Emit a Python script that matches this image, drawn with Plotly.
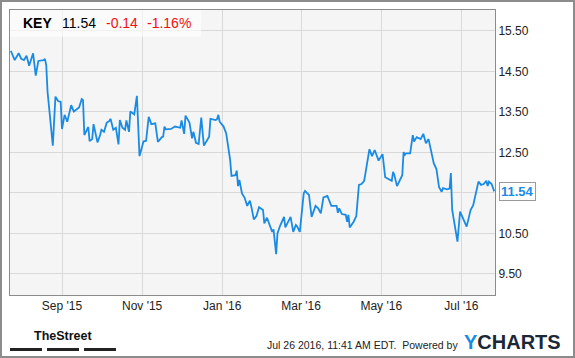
import plotly.graph_objects as go

# ---------------- data ----------------
dates = [
    "2015-07-24", "2015-07-27", "2015-07-30", "2015-08-01", "2015-08-03", "2015-08-05",
    "2015-08-07", "2015-08-10", "2015-08-12", "2015-08-14", "2015-08-18", "2015-08-19",
    "2015-08-20", "2015-08-21", "2015-08-25", "2015-08-27", "2015-08-29", "2015-08-31",
    "2015-09-01", "2015-09-03", "2015-09-05", "2015-09-08", "2015-09-10", "2015-09-12",
    "2015-09-14", "2015-09-16", "2015-09-17", "2015-09-18", "2015-09-21", "2015-09-22",
    "2015-09-24", "2015-09-25", "2015-09-27", "2015-09-28", "2015-09-30", "2015-10-01",
    "2015-10-03", "2015-10-05", "2015-10-07", "2015-10-08", "2015-10-10", "2015-10-12",
    "2015-10-14", "2015-10-15", "2015-10-17", "2015-10-19", "2015-10-20", "2015-10-22",
    "2015-10-23", "2015-10-26", "2015-10-28", "2015-10-30", "2015-11-02", "2015-11-04",
    "2015-11-06", "2015-11-08", "2015-11-11", "2015-11-13", "2015-11-16", "2015-11-17",
    "2015-11-18", "2015-11-19", "2015-11-23", "2015-11-26", "2015-11-30", "2015-12-01",
    "2015-12-03", "2015-12-04", "2015-12-07", "2015-12-09", "2015-12-10", "2015-12-12",
    "2015-12-14", "2015-12-16", "2015-12-18", "2015-12-20", "2015-12-22", "2015-12-23",
    "2015-12-27", "2015-12-28", "2015-12-29", "2015-12-30", "2016-01-02", "2016-01-04",
    "2016-01-05", "2016-01-07", "2016-01-08", "2016-01-11", "2016-01-12", "2016-01-13",
    "2016-01-14", "2016-01-16", "2016-01-18", "2016-01-20", "2016-01-21", "2016-01-22",
    "2016-01-23", "2016-01-25", "2016-01-27", "2016-01-29", "2016-02-01", "2016-02-02",
    "2016-02-04", "2016-02-06", "2016-02-08", "2016-02-09", "2016-02-11", "2016-02-12",
    "2016-02-14", "2016-02-17", "2016-02-18", "2016-02-22", "2016-02-24", "2016-02-26",
    "2016-02-27", "2016-02-29", "2016-03-03", "2016-03-04", "2016-03-07", "2016-03-09",
    "2016-03-12", "2016-03-14", "2016-03-16", "2016-03-18", "2016-03-21", "2016-03-24",
    "2016-03-28", "2016-03-29", "2016-03-30", "2016-04-01", "2016-04-04", "2016-04-05",
    "2016-04-06", "2016-04-07", "2016-04-10", "2016-04-12", "2016-04-14", "2016-04-16",
    "2016-04-18", "2016-04-20", "2016-04-22", "2016-04-24", "2016-04-26", "2016-04-29",
    "2016-05-02", "2016-05-04", "2016-05-06", "2016-05-09", "2016-05-10", "2016-05-11",
    "2016-05-13", "2016-05-17", "2016-05-18", "2016-05-19", "2016-05-20", "2016-05-23",
    "2016-05-25", "2016-05-26", "2016-05-28", "2016-05-31", "2016-06-02", "2016-06-04",
    "2016-06-06", "2016-06-07", "2016-06-10", "2016-06-12", "2016-06-14", "2016-06-16",
    "2016-06-17", "2016-06-20", "2016-06-22", "2016-06-23", "2016-06-24", "2016-06-28",
    "2016-06-30", "2016-07-05", "2016-07-08", "2016-07-10", "2016-07-12", "2016-07-14",
    "2016-07-16", "2016-07-18", "2016-07-20", "2016-07-21", "2016-07-22", "2016-07-24",
    "2016-07-26",
]
prices = [
    15.01, 14.78, 14.95, 14.81, 14.78, 14.89,
    14.64, 14.95, 14.40, 14.76, 14.78, 14.81,
    14.66, 14.00, 12.67, 13.88, 13.77, 13.75,
    13.08, 13.43, 13.26, 13.67, 13.51, 13.55,
    13.61, 13.82, 13.79, 12.93, 13.13, 12.78,
    12.83, 13.20, 12.93, 12.75, 12.93, 13.06,
    13.01, 13.23, 13.28, 13.33, 13.06, 13.11,
    12.70, 13.30, 13.11, 13.06, 13.29, 13.01,
    13.51, 13.44, 13.90, 12.41, 12.77, 12.79,
    13.38, 13.20, 13.22, 12.76, 12.88, 12.89,
    13.14, 13.07, 13.08, 13.14, 13.11, 13.29,
    12.96, 13.41, 13.24, 12.85, 13.01, 12.74,
    12.71, 13.36, 12.67, 12.77, 12.89, 13.33,
    13.30, 13.32, 13.43, 13.26, 13.14, 12.97,
    12.77, 12.31, 11.92, 11.94, 12.05, 11.67,
    11.82, 11.49, 11.38, 11.18, 11.25, 11.31,
    11.18, 10.85, 10.93, 11.15, 11.08, 10.75,
    10.89, 10.71, 10.54, 10.60, 9.99, 10.50,
    10.69, 10.91, 10.65, 10.91, 10.54, 10.71,
    10.67, 10.54, 11.49, 11.55, 11.45, 10.91,
    11.18, 11.12, 11.00, 11.39, 11.43, 11.18,
    11.18, 11.01, 11.12, 10.98, 10.96, 10.79,
    10.96, 10.65, 10.79, 10.93, 11.70, 11.72,
    11.80, 12.19, 12.58, 12.41, 12.56, 12.30,
    12.46, 11.89, 11.86, 11.80, 12.02, 11.94,
    11.67, 11.94, 12.51, 12.44, 12.48, 12.48,
    12.93, 12.77, 12.88, 12.83, 12.96, 12.73,
    12.83, 12.69, 12.23, 12.09, 11.64, 11.53,
    11.62, 11.59, 11.61, 11.99, 11.08, 10.30,
    11.04, 10.67, 11.08, 11.20, 11.48, 11.78,
    11.70, 11.72, 11.80, 11.67, 11.78, 11.72,
    11.54,
]
ticker = "KEY"
last_price = 11.54
change = -0.14
change_pct = -1.16
y_ticks = [9.5, 10.5, 11.5, 12.5, 13.5, 14.5, 15.5]
# the 11.50 label is hidden behind the last-price box in the reference
y_tick_text = ["9.50", "10.50", "", "12.50", "13.50", "14.50", "15.50"]
timestamp_text = "Jul 26 2016, 11:41 AM EDT.  Powered by"

# ---------------- layout helpers ----------------
W, H = 575, 358
L, R, T, B = 10, 495, 10, 295  # plot area in pixels
PW, PH = R - L, B - T


def px(x):
    return (x - L) / PW


def py(y):
    return 1 - (y - T) / PH


FONT = "Arial, Liberation Sans, sans-serif"
BLUE = "#1a8be5"
RED = "#f01010"

fig = go.Figure()
fig.add_trace(go.Scatter(
    x=dates, y=prices, mode="lines",
    line=dict(color=BLUE, width=1.8),
    hoverinfo="skip", showlegend=False,
))

fig.update_layout(
    width=W, height=H,
    margin=dict(l=L, r=W - R, t=T, b=H - B, pad=0),
    paper_bgcolor="white",
    plot_bgcolor="#f5f5f5",
    font=dict(family=FONT, size=12, color="#333333"),
    showlegend=False,
)
fig.update_xaxes(
    type="date",
    range=["2015-07-23 10:00", "2016-07-26 14:00"],
    tick0="2015-09-01", dtick="M2", tickformat="%b '%y",
    showgrid=True, gridcolor="#d9d9d9", gridwidth=1,
    showline=True, mirror=True, linecolor="#8c8c8c", linewidth=1,
    ticks="", zeroline=False,
    tickfont=dict(family=FONT, size=12, color="#222222"),
)
fig.update_yaxes(
    range=[8.981, 16.018], side="right",
    tickvals=y_ticks, ticktext=y_tick_text,
    showgrid=True, gridcolor="#d9d9d9", gridwidth=1,
    showline=True, mirror=True, linecolor="#8c8c8c", linewidth=1,
    ticks="", zeroline=False,
    tickfont=dict(family=FONT, size=12, color="#222222"),
)

shapes = []
# outer border
shapes.append(dict(type="rect", xref="paper", yref="paper",
                   x0=px(1), x1=px(W - 1), y0=py(H - 1), y1=py(1),
                   line=dict(color="#8c8c8c", width=2), fillcolor="rgba(0,0,0,0)"))
# header box
shapes.append(dict(type="rect", xref="paper", yref="paper",
                   x0=px(L), x1=px(201), y0=py(36.7), y1=py(T),
                   line=dict(width=0), fillcolor="rgba(255,255,255,0.6)", layer="above"))
# TheStreet bars
for (a, b) in [(10, 42), (47, 79), (84, 116)]:
    shapes.append(dict(type="rect", xref="paper", yref="paper",
                       x0=px(a), x1=px(b), y0=py(351), y1=py(348),
                       line=dict(width=0), fillcolor="#222222"))
fig.update_layout(shapes=shapes)

ann = []


def text(x, y, s, size, color, family=FONT, xanchor="left"):
    ann.append(dict(xref="paper", yref="paper", x=px(x), y=py(y), text=s,
                    showarrow=False, xanchor=xanchor, yanchor="middle",
                    font=dict(family=family, size=size, color=color)))


text(20.5, 23, f"<b>{ticker}</b>", 14, "#000000")
text(60, 23, f"{last_price:.2f}", 14, "#000000")
text(104, 23, f"{change:.2f}", 14, RED)
text(145, 23, f"{change_pct:.2f}%", 14, RED)

text(63, 336, "<b>TheStreet</b>", 12.5, "#111111", xanchor="center")
text(460, 345, timestamp_text, 10.5, "#222222", xanchor="right")
text(462, 341.5, f"<b><span style='color:{BLUE}'>Y</span>CHARTS</b>", 20, "#1b2838")

# last value label with a small pointer
ann.append(dict(xref="x", yref="y", x=dates[-1], y=prices[-1],
                text=f"<b>{prices[-1]:.2f}</b>", showarrow=False,
                xanchor="left", yanchor="middle", xshift=5,
                font=dict(family=FONT, size=13, color=BLUE),
                bgcolor="white", bordercolor="#9a9a9a", borderwidth=1, borderpad=1))
fig.update_layout(annotations=ann)

fig.write_html("out.html")
